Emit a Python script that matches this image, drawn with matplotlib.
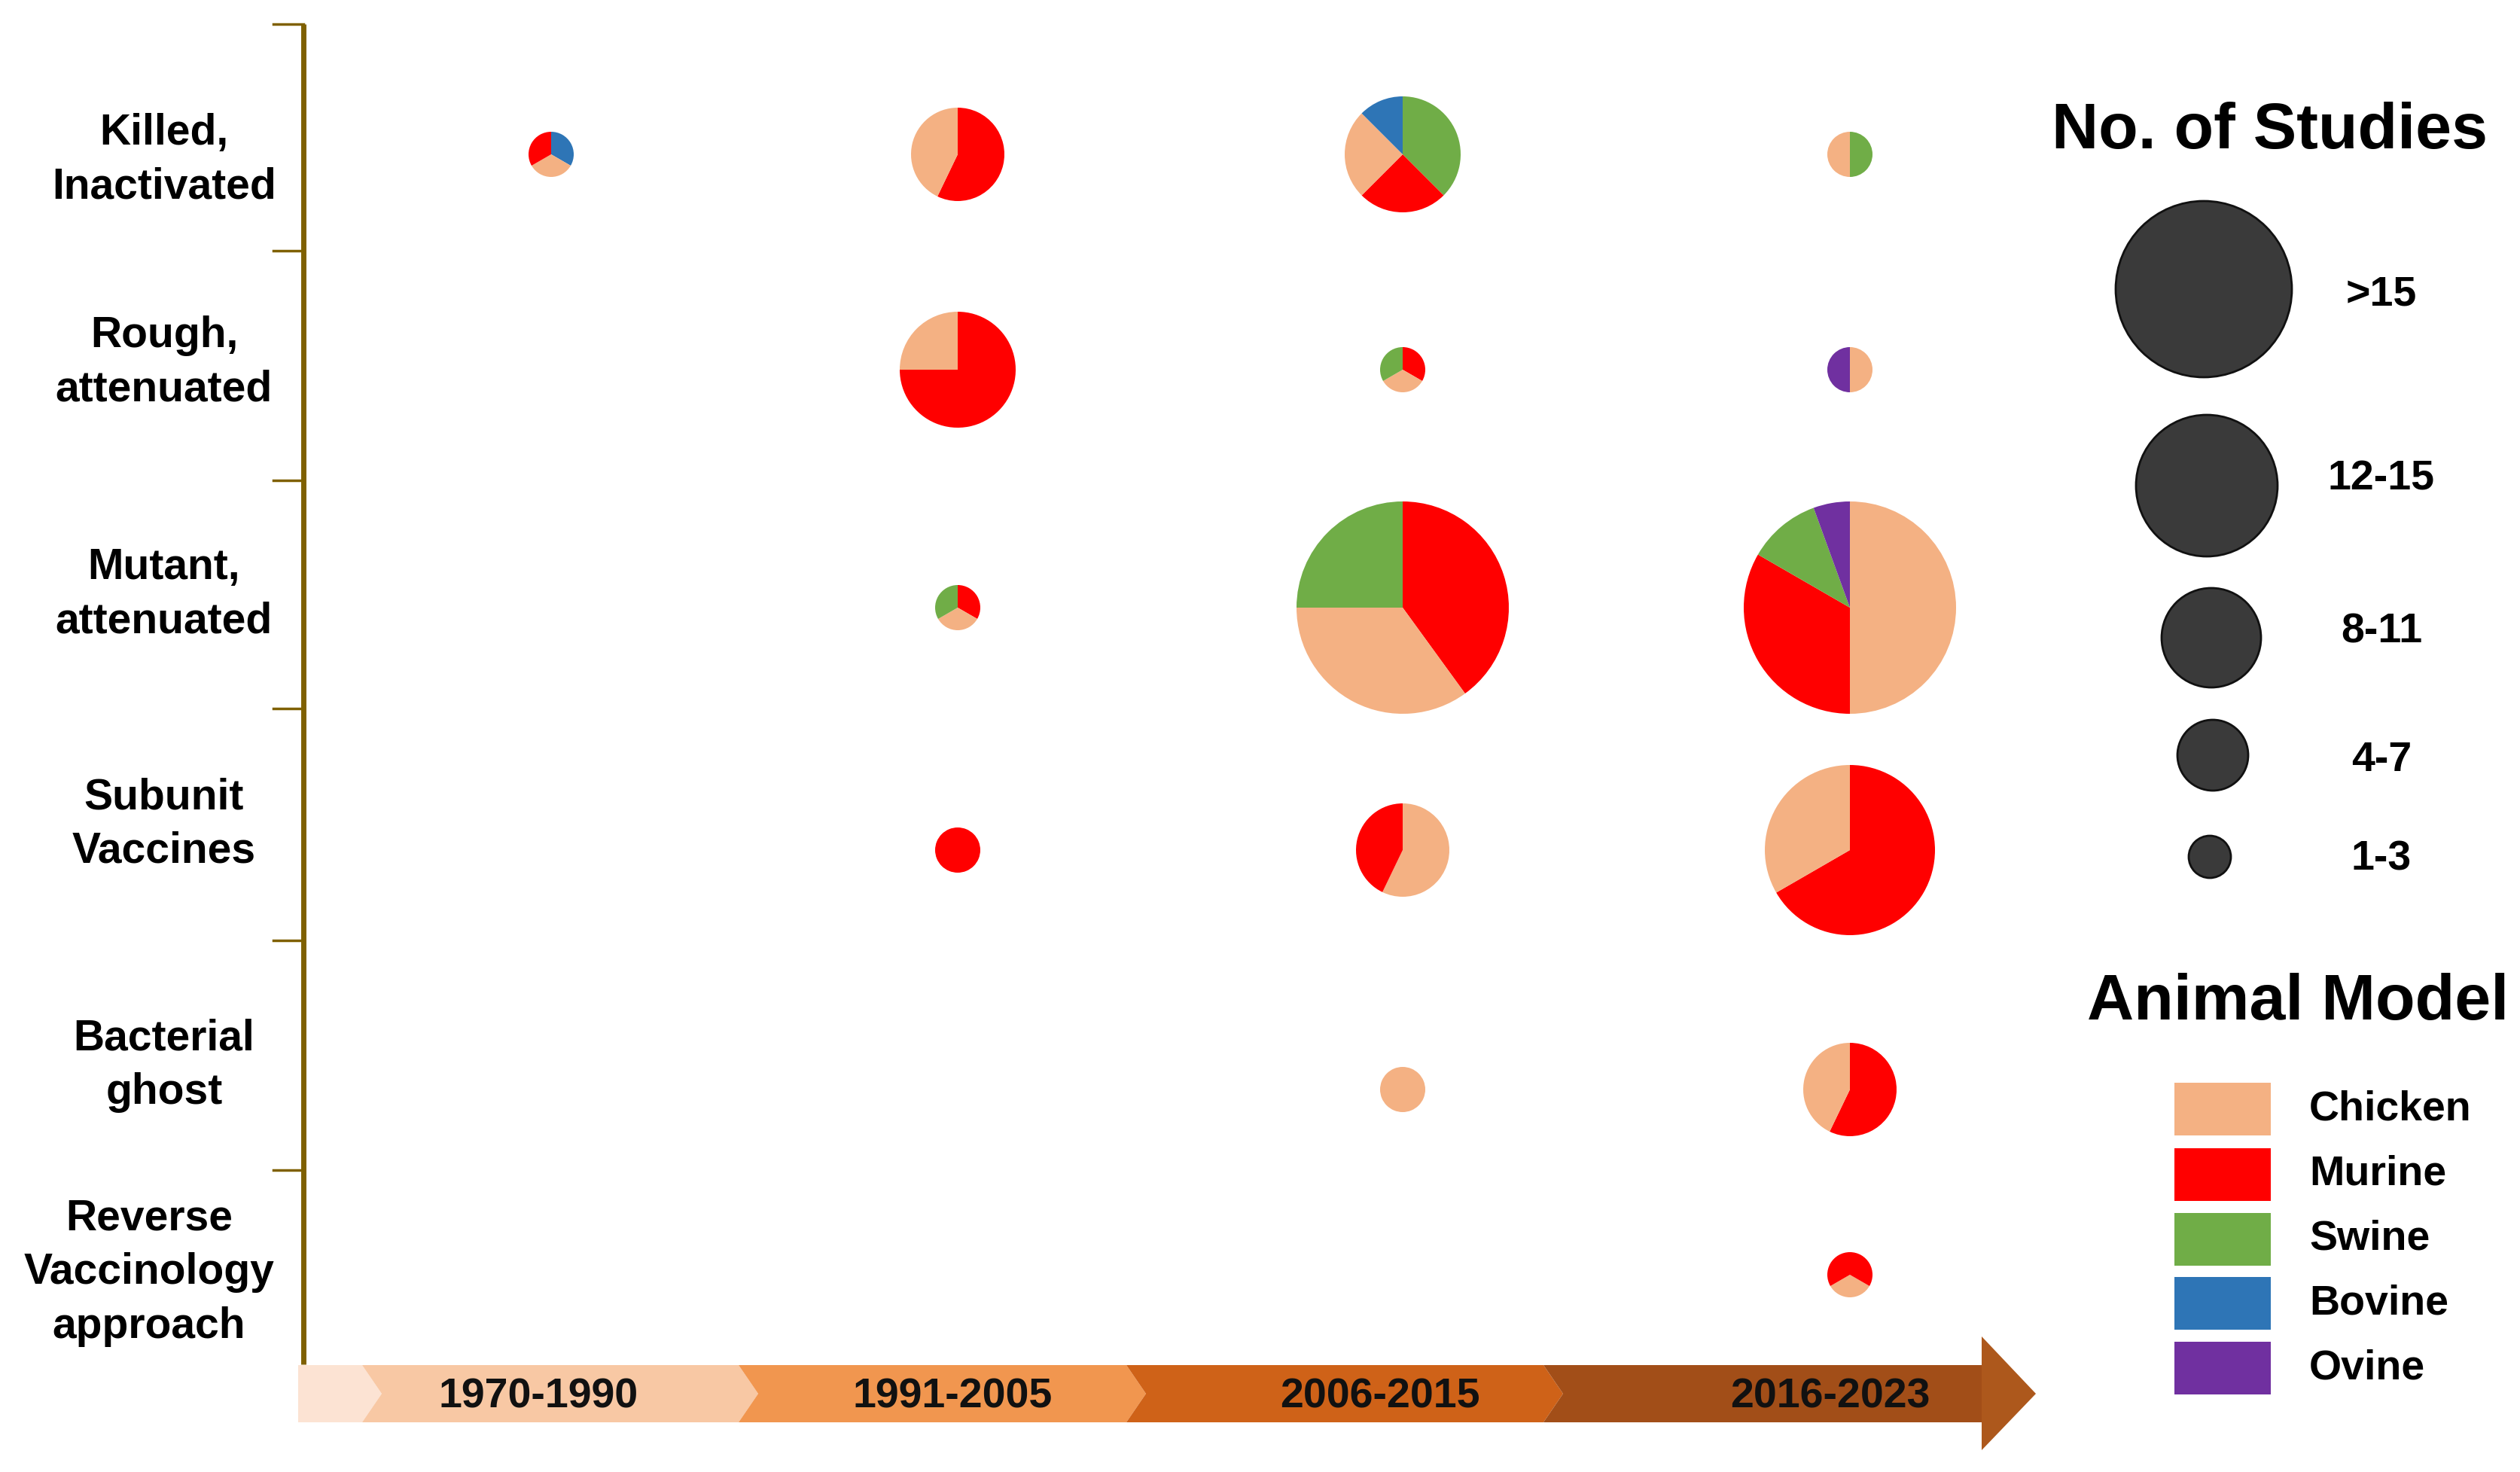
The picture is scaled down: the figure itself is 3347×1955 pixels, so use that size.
"""Timeline of Brucella vaccine studies: pies by vaccine type, period and animal model."""
import matplotlib

matplotlib.use("Agg")
import matplotlib.pyplot as plt
from matplotlib.patches import Circle, Polygon, Rectangle

plt.rcParams["font.family"] = ["Liberation Sans", "DejaVu Sans"]
plt.rcParams["font.weight"] = "bold"

# ---- data -----------------------------------------------------------------
periods = ["1970-1990", "1991-2005", "2006-2015", "2016-2023"]
vaccine_types = [
    "Killed,\nInactivated",
    "Rough,\nattenuated",
    "Mutant,\nattenuated",
    "Subunit\nVaccines",
    "Bacterial\nghost",
    "Reverse\nVaccinology\napproach",
]
animals = ["Chicken", "Murine", "Swine", "Bovine", "Ovine"]
size_bins = [">15", "12-15", "8-11", "4-7", "1-3"]

# one entry per pie; slices listed clockwise from 12 o'clock
pie_type = [0, 0, 0, 0, 1, 1, 1, 2, 2, 2, 3, 3, 3, 4, 4, 5]
pie_period = [0, 1, 2, 3, 1, 2, 3, 1, 2, 3, 1, 2, 3, 2, 3, 3]
pie_animals = [
    ["Bovine", "Chicken", "Murine"],
    ["Murine", "Chicken"],
    ["Swine", "Murine", "Chicken", "Bovine"],
    ["Swine", "Chicken"],
    ["Murine", "Chicken"],
    ["Murine", "Chicken", "Swine"],
    ["Chicken", "Ovine"],
    ["Murine", "Chicken", "Swine"],
    ["Murine", "Chicken", "Swine"],
    ["Chicken", "Murine", "Swine", "Ovine"],
    ["Murine"],
    ["Chicken", "Murine"],
    ["Murine", "Chicken"],
    ["Chicken"],
    ["Murine", "Chicken"],
    ["Chicken", "Murine"],
]
pie_counts = [
    [1, 1, 1],
    [4, 3],
    [3, 2, 2, 1],
    [1, 1],
    [6, 2],
    [1, 1, 1],
    [1, 1],
    [1, 1, 1],
    [8, 7, 5],
    [9, 6, 2, 1],
    [1],
    [4, 3],
    [10, 5],
    [1],
    [4, 3],
    [1, 2],
]

# ---- style / layout (pixels, measured from the top-left) ------------------
W, H = 3347, 1955
animal_colors = {
    "Chicken": "#f4b183",
    "Murine": "#ff0000",
    "Swine": "#70ad47",
    "Bovine": "#2e75b6",
    "Ovine": "#7030a0",
}
col_x = [732, 1272, 1863, 2457]
row_y = [205, 491, 807, 1129, 1447, 1693]
label_y = [213, 482, 790, 1095, 1415, 1690]
pie_start_cw = {15: 120}  # the last pie is rotated
bin_upper = [3, 7, 11, 15]
bin_radius = [30, 62, 77, 113, 141]  # 1-3, 4-7, 8-11, 12-15, >15

axis_color = "#7f6000"
axis_x, axis_top, axis_bottom = 403, 32, 1812
tick_y = [32, 333, 638, 941, 1249, 1554]

seg_bounds = [396, 481, 981, 1496, 2050, 2632]
seg_colors = ["#fce3d3", "#f8c8a4", "#f1964f", "#cf6218", "#a24e18"]
body_top, body_bot = 1813, 1889
chevron = 26
period_label_x = [715, 1265, 1833, 2431]

legend_circle_r = [117, 94, 66, 47, 28]
legend_circle_xy = [(2927, 384), (2931, 645), (2937, 847), (2939, 1003), (2935, 1138)]
legend_label_y = [391, 636, 839, 1010, 1142]
patch_y = [1473, 1560, 1646, 1731, 1817]


def Y(y):
    return H - y


def radius_for(total):
    for i, up in enumerate(bin_upper):
        if total <= up:
            return bin_radius[i]
    return bin_radius[-1]


fig = plt.figure(figsize=(W / 100, H / 100), dpi=100)
ax = fig.add_axes([0, 0, 1, 1])

# ---- pies -----------------------------------------------------------------
for k in range(len(pie_counts)):
    counts = pie_counts[k]
    x = col_x[pie_period[k]]
    y = row_y[pie_type[k]]
    ax.pie(
        counts,
        colors=[animal_colors[a] for a in pie_animals[k]],
        startangle=90 - pie_start_cw.get(k, 0),
        counterclock=False,
        center=(x, Y(y)),
        radius=radius_for(sum(counts)),
        frame=True,
        wedgeprops=dict(linewidth=0),
    )

# ---- left axis with category labels --------------------------------------
ax.plot([axis_x, axis_x], [Y(axis_top), Y(axis_bottom)], color=axis_color,
        lw=5, solid_capstyle="butt")
for ty in tick_y:
    ax.plot([axis_x - 40, axis_x], [Y(ty), Y(ty)], color=axis_color, lw=2.5)
for i, name in enumerate(vaccine_types):
    ax.text(218 if i < 5 else 198, Y(label_y[i]), name, ha="center", va="center",
            fontsize=41, fontweight="bold", linespacing=1.42)

# ---- timeline arrow ------------------------------------------------------
mid = (body_top + body_bot) / 2
for i in range(len(seg_colors)):
    left, right = seg_bounds[i], seg_bounds[i + 1]
    pts = []
    if i == 0:
        pts += [(left, body_bot), (left, body_top)]
    else:
        pts += [(left, body_bot), (left + chevron, mid), (left, body_top)]
    if i == len(seg_colors) - 1:
        pts += [(right + 1, body_top), (right + 1, body_bot)]
    else:
        pts += [(right, body_top), (right + chevron, mid), (right, body_bot)]
    ax.add_patch(Polygon([(px, Y(py)) for px, py in pts], closed=True,
                         facecolor=seg_colors[i], edgecolor="none"))
head = [(2632, 1775), (2704, mid), (2632, 1926)]
ax.add_patch(Polygon([(px, Y(py)) for px, py in head], closed=True,
                     facecolor="#ad581c", edgecolor="none"))
for i, p in enumerate(periods):
    ax.text(period_label_x[i], Y(mid + 4), p, ha="center", va="center",
            fontsize=40, fontweight="bold", color="#111111",
            family=["Liberation Sans Narrow", "Liberation Sans"])

# ---- size legend ---------------------------------------------------------
ax.text(3015, Y(175), "No. of Studies", ha="center", va="center",
        fontsize=62, fontweight="bold")
for (cx, cy), r, lab, ly in zip(legend_circle_xy, legend_circle_r, size_bins, legend_label_y):
    ax.add_patch(Circle((cx, Y(cy)), r, facecolor="#3a3a3a", edgecolor="#111111", lw=2))
    ax.text(3163, Y(ly), lab, ha="center", va="center", fontsize=40, fontweight="bold")

# ---- animal legend -------------------------------------------------------
ax.text(3052, Y(1332), "Animal Model", ha="center", va="center",
        fontsize=62, fontweight="bold")
for a, py in zip(animals, patch_y):
    ax.add_patch(Rectangle((2888, Y(py + 35)), 128, 70,
                           facecolor=animal_colors[a], edgecolor="none"))
    ax.text(3067, Y(py), a, ha="left", va="center", fontsize=40, fontweight="bold")

ax.set_xlim(0, W)
ax.set_ylim(0, H)
ax.set_aspect("equal")
ax.axis("off")

fig.savefig("out.png", dpi=100, facecolor="white")
